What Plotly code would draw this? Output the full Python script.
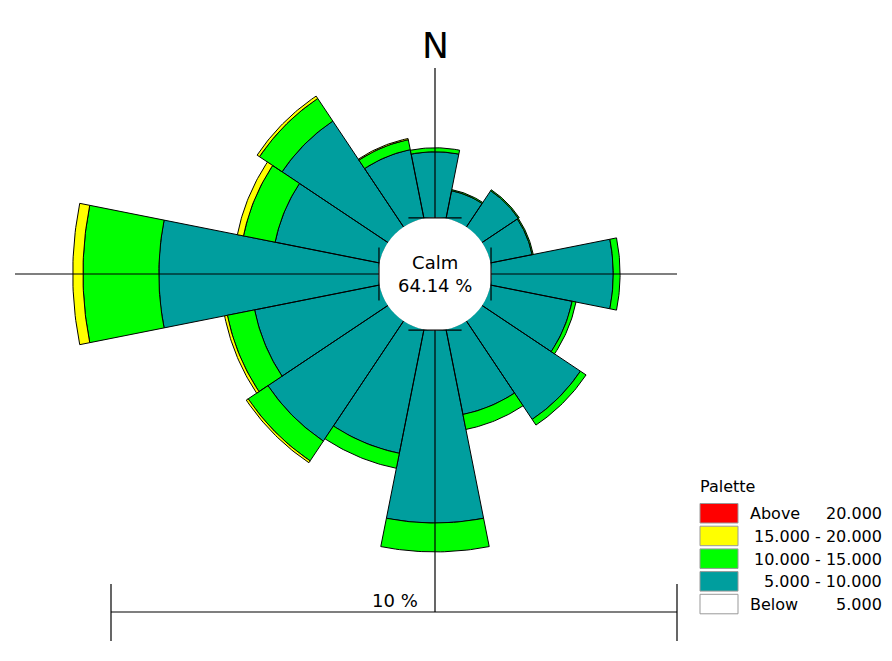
import numpy as np
import plotly.graph_objects as go

# ---------------- data ----------------
directions = ["N", "NNE", "NE", "ENE", "E", "ESE", "SE", "SSE",
              "S", "SSW", "SW", "WSW", "W", "WNW", "NW", "NNW"]
bearings = [0, 22.5, 45, 67.5, 90, 112.5, 135, 157.5,
            180, 202.5, 225, 247.5, 270, 292.5, 315, 337.5]

# frequency (%) of each wind-speed class per direction
freq_below_5 = [0.00] * 16
freq_5_10 = [1.17, 0.51, 0.78, 0.76, 2.16, 1.48, 2.10, 1.54,
             3.41, 2.24, 2.56, 2.26, 3.89, 1.89, 2.26, 1.25]
freq_10_15 = [0.07, 0.02, 0.02, 0.02, 0.12, 0.07, 0.12, 0.27,
              0.51, 0.27, 0.42, 0.49, 1.34, 0.57, 0.48, 0.18]
freq_15_20 = [0.00, 0.00, 0.00, 0.00, 0.00, 0.00, 0.00, 0.00,
              0.00, 0.00, 0.04, 0.05, 0.18, 0.11, 0.05, 0.02]
freq_above_20 = [0.00] * 16
calm_pct = 64.14

class_names = ["Below", "5.000 - 10.000", "10.000 - 15.000", "15.000 - 20.000", "Above"]
class_colors = ["#FFFFFF", "#009E9E", "#00FF00", "#FFFF00", "#FF0000"]
class_freqs = [freq_below_5, freq_5_10, freq_10_15, freq_15_20, freq_above_20]
legend_left = ["Above", "", "", "", "Below"]
legend_right = ["20.000", "15.000 - 20.000", "10.000 - 15.000", "5.000 - 10.000", "5.000"]
legend_colors = ["#FF0000", "#FFFF00", "#00FF00", "#009E9E", "#FFFFFF"]
scale_pct = 10

# ---------------- geometry ----------------
OFF = 8                    # default page body margin
W, H = 892 - OFF, 661 - OFF
CX, CY = 435, 274          # page-pixel centre of the rose
K = 56.6                   # pixels per 1 %
HOLE = 0.99                # calm circle radius (in % units)
HALF = 11.25               # half sector width, degrees
FONT = "DejaVu Sans"

def px_x(p):               # page pixel -> data x
    return (p - CX) / K

def px_y(p):               # page pixel -> data y
    return (CY - p) / K

def pp_x(p):               # page pixel -> paper x
    return (p - OFF) / W

def pp_y(p):               # page pixel -> paper y
    return 1 - (p - OFF) / H

def sector(r0, r1, bearing):
    t = np.radians(np.linspace(bearing - HALF, bearing + HALF, 30))
    xs = list(r1 * np.sin(t)) + list(r0 * np.sin(t[::-1]))
    ys = list(r1 * np.cos(t)) + list(r0 * np.cos(t[::-1]))
    xs.append(xs[0]); ys.append(ys[0])
    return xs, ys

fig = go.Figure()
cum = np.zeros(16)
for name, color, freqs in zip(class_names, class_colors, class_freqs):
    f = np.array(freqs, dtype=float)
    X, Y = [], []
    for i, b in enumerate(bearings):
        if f[i] > 0:
            xs, ys = sector(HOLE + cum[i], HOLE + cum[i] + f[i], b)
            X += xs + [None]
            Y += ys + [None]
    cum += f
    if X:
        fig.add_trace(go.Scatter(x=X, y=Y, mode="lines", fill="toself",
                                 fillcolor=color, line=dict(color="black", width=1),
                                 name=name, hoverinfo="skip", showlegend=False))

shapes = []
# white calm circle (covers inner outlines)
rc = HOLE + 0.6 / K
shapes.append(dict(type="circle", xref="x", yref="y", x0=-rc, x1=rc, y0=-rc, y1=rc,
                   fillcolor="white", line=dict(width=0)))

line = dict(color="black", width=1.2)
top_end = px_y(68)
bar_y = px_y(612)
left_end = px_x(15)
right_end = px_x(677)
# cross axes
shapes += [
    dict(type="line", xref="x", yref="y", x0=0, x1=0, y0=HOLE, y1=top_end, line=line),
    dict(type="line", xref="x", yref="y", x0=0, x1=0, y0=-HOLE, y1=bar_y, line=line),
    dict(type="line", xref="x", yref="y", x0=left_end, x1=-HOLE, y0=0, y1=0, line=line),
    dict(type="line", xref="x", yref="y", x0=HOLE, x1=right_end, y0=0, y1=0, line=line),
]
# small tick bars on the calm circle
tb = 0.47
shapes += [
    dict(type="line", xref="x", yref="y", x0=-tb, x1=tb, y0=HOLE, y1=HOLE, line=line),
    dict(type="line", xref="x", yref="y", x0=-tb, x1=tb, y0=-HOLE, y1=-HOLE, line=line),
    dict(type="line", xref="x", yref="y", x0=-HOLE, x1=-HOLE, y0=-tb, y1=tb, line=line),
    dict(type="line", xref="x", yref="y", x0=HOLE, x1=HOLE, y0=-tb, y1=tb, line=line),
]
# scale bar (scale_pct % long)
sb_right = right_end
sb_left = sb_right - scale_pct
shapes += [
    dict(type="line", xref="x", yref="y", x0=sb_left, x1=sb_right, y0=bar_y, y1=bar_y, line=line),
    dict(type="line", xref="x", yref="y", x0=sb_left, x1=sb_left, y0=px_y(584), y1=px_y(641), line=line),
    dict(type="line", xref="x", yref="y", x0=sb_right, x1=sb_right, y0=px_y(584), y1=px_y(641), line=line),
]

# legend boxes
annotations = []
box_top0, step, box_h = 503.5, 22.7, 19.5
for i, (c, lt, rt) in enumerate(zip(legend_colors, legend_left, legend_right)):
    top = box_top0 + i * step
    shapes.append(dict(type="rect", xref="paper", yref="paper",
                       x0=pp_x(700), x1=pp_x(738), y0=pp_y(top + box_h), y1=pp_y(top),
                       fillcolor=c, line=dict(color="#999999", width=1)))
    yc = pp_y(top + box_h / 2 + 0.5)
    if lt:
        annotations.append(dict(xref="paper", yref="paper", x=pp_x(748), y=yc, text=lt,
                                xanchor="left", yanchor="middle", showarrow=False,
                                font=dict(family=FONT, size=16, color="black")))
    annotations.append(dict(xref="paper", yref="paper", x=pp_x(884), y=yc, text=rt,
                            xanchor="right", yanchor="middle", showarrow=False,
                            font=dict(family=FONT, size=16, color="black")))
annotations.append(dict(xref="paper", yref="paper", x=pp_x(698), y=pp_y(486), text="Palette",
                        xanchor="left", yanchor="middle", showarrow=False,
                        font=dict(family=FONT, size=16, color="black")))

# texts on the rose
annotations += [
    dict(xref="x", yref="y", x=0, y=px_y(45), text="N", showarrow=False,
         xanchor="center", yanchor="middle", font=dict(family=FONT, size=36, color="black")),
    dict(xref="x", yref="y", x=0, y=0, text=f"Calm<br>{calm_pct:.2f} %", showarrow=False,
         xanchor="center", yanchor="middle", font=dict(family=FONT, size=18, color="black")),
    dict(xref="x", yref="y", x=px_x(420), y=px_y(600), text=f"{scale_pct} %", showarrow=False,
         xanchor="right", yanchor="middle", font=dict(family=FONT, size=18, color="black")),
]

fig.update_layout(
    width=W, height=H,
    margin=dict(l=0, r=0, t=0, b=0),
    paper_bgcolor="white", plot_bgcolor="white",
    xaxis=dict(range=[px_x(OFF), px_x(OFF + W)], visible=False, fixedrange=True),
    yaxis=dict(range=[px_y(OFF + H), px_y(OFF)], visible=False, fixedrange=True),
    shapes=shapes, annotations=annotations, showlegend=False,
)

fig.write_html("out.html")
